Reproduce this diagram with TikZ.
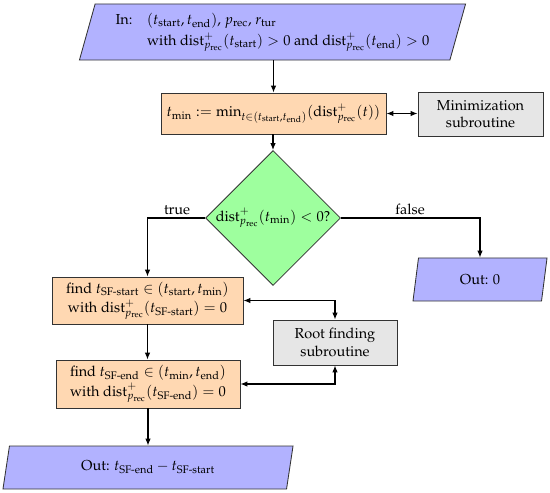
\documentclass[tikz,border=0pt]{standalone}
\usepackage[T1]{fontenc}
\usepackage{mathpazo}
\usepackage{amsmath}
\usetikzlibrary{shapes.geometric,arrows.meta}
\newcommand{\dst}{\mathrm{dist}^{+}_{p_{\mathrm{rec}}}}
\newcommand{\ts}[1]{t_{\text{#1}}}
\definecolor{iocol}{RGB}{178,178,255}
\definecolor{proccol}{RGB}{255,216,178}
\definecolor{deccol}{RGB}{158,255,158}
\definecolor{subcol}{RGB}{230,230,230}
\begin{document}
\begin{tikzpicture}[x=0.025cm,y=-0.025cm,
  base/.style={draw=black!80,line width=0.6pt,inner sep=2pt,align=center,font=\fontsize{10.3}{12.4}\selectfont},
  iobox/.style={base,fill=iocol,trapezium,trapezium left angle=71,trapezium right angle=109,trapezium stretches body},
  procbox/.style={base,fill=proccol,rectangle},
  subbox/.style={base,fill=subcol,rectangle},
  decbox/.style={base,fill=deccol,diamond,inner sep=0pt,minimum width=3.375cm,minimum height=3.375cm},
  conn/.style={line width=0.8pt,-{Latex[length=5pt,width=4pt]}},
  dconn/.style={line width=0.8pt,{Latex[length=5pt,width=4pt]}-{Latex[length=5pt,width=4pt]}},
  lbl/.style={font=\fontsize{10.3}{12.4}\selectfont,inner sep=1pt}]
\useasboundingbox (0,0) rectangle (550,492);
\node[iobox,minimum width=9.65cm,minimum height=1.4cm] (in) at (272.5,32)
  {\begin{tabular}{@{}l@{\quad}l@{}}In: & $(\ts{start},\ts{end})$, $p_{\mathrm{rec}}$, $r_{\mathrm{tur}}$\\[2pt]
   & with $\dst(\ts{start})>0$ and $\dst(\ts{end})>0$\end{tabular}};
\node[procbox,minimum width=5.625cm,minimum height=1.025cm] (tmin) at (273.5,113.5)
  {$\ts{min}:=\min_{t\in(\ts{start},\ts{end})}(\dst(t))$};
\node[subbox,minimum width=3.125cm,minimum height=1.1cm] (minim) at (480.5,114)
  {Minimization\\subroutine};
\node[decbox] (dec) at (273,218) {$\dst(\ts{min})<0$?};
\node[iobox,minimum width=3.35cm,minimum height=1.075cm] (out0) at (480,279.5) {Out: 0};
\node[procbox,minimum width=4.775cm,minimum height=1.175cm] (sfs) at (147.5,300.5)
  {find $\ts{SF-start}\in(\ts{start},\ts{min})$\\[1.5pt]with $\dst(\ts{SF-start})=0$};
\node[subbox,minimum width=3.1cm,minimum height=1.125cm] (root) at (335,342.5)
  {Root finding\\subroutine};
\node[procbox,minimum width=4.6cm,minimum height=1.2cm] (sfe) at (148,384)
  {find $\ts{SF-end}\in(\ts{min},\ts{end})$\\[1.5pt]with $\dst(\ts{SF-end})=0$};
\node[iobox,minimum width=7.25cm,minimum height=1.075cm] (out) at (148,467.5)
  {Out: $\ts{SF-end}-\ts{SF-start}$};
\draw[conn] (in.south -| tmin.north) -- (tmin.north);
\draw[dconn] (tmin.east) -- (tmin.east -| minim.west);
\draw[conn] (tmin.south -| dec.north) -- (dec.north);
\draw[conn] (dec.west) -| (sfs.north);
\draw[conn] (dec.east) -| (out0.north);
\node[lbl,anchor=south] (ltrue) at (177,216) {true};
\node[lbl,anchor=south] (lfalse) at (410,216) {false};
\draw[conn] (sfs.south) -- (sfe.north -| sfs.south);
\draw[conn] (sfe.south) -- (out.north -| sfe.south);
\draw[dconn] (sfs.east) -| (root.north);
\draw[dconn] (sfe.east) -| (root.south);
\end{tikzpicture}
\end{document}
